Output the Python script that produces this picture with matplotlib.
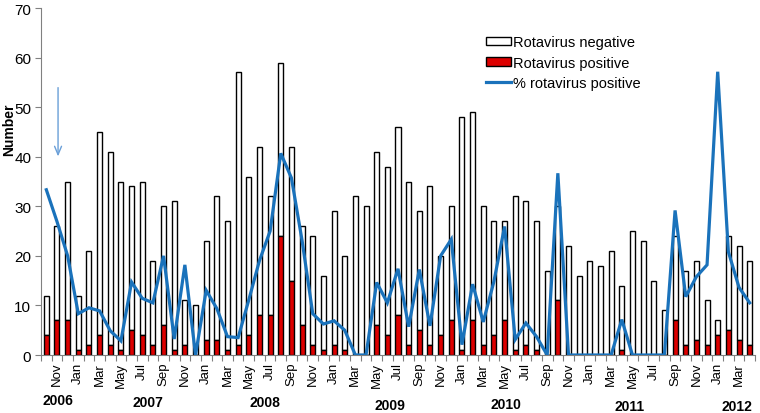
import matplotlib
matplotlib.use("Agg")
import matplotlib.pyplot as plt
import numpy as np
import pandas as pd

plt.rcParams['font.family'] = ['Liberation Sans', 'DejaVu Sans']

# monthly counts, Oct 2006 .. Apr 2012
positive = [4, 7, 7, 1, 2, 4, 2, 1, 5, 4,
            2, 6, 1, 2, 0, 3, 3, 1, 2, 4,
            8, 8, 24, 15, 6, 2, 1, 2, 1, 0,
            0, 6, 4, 8, 2, 5, 2, 4, 7, 1,
            7, 2, 4, 7, 1, 2, 1, 0, 11, 0,
            0, 0, 0, 0, 1, 0, 0, 0, 0, 7,
            2, 3, 2, 4, 5, 3, 2]
negative = [8, 19, 28, 11, 19, 41, 39, 34, 29, 31,
            17, 24, 30, 9, 10, 20, 29, 26, 55, 32,
            34, 24, 35, 27, 20, 22, 15, 27, 19, 32,
            30, 35, 34, 38, 33, 24, 32, 16, 23, 47,
            42, 28, 23, 20, 31, 29, 26, 17, 19, 22,
            16, 19, 18, 21, 13, 25, 23, 15, 9, 17,
            15, 16, 9, 3, 19, 19, 17]
years = ['2006', '2007', '2008', '2009', '2010', '2011', '2012']
year_pos = [1.1, 9.5, 20.5, 32.2, 43.1, 54.7, 64.8]
year_y = [-0.13, -0.135, -0.135, -0.145, -0.14, -0.148, -0.148]

months = pd.date_range('2006-10-01', periods=len(positive), freq='MS')
pos = np.array(positive)
neg = np.array(negative)
total = pos + neg
pct = pos / total * 100
x = np.arange(len(pos))

fig = plt.figure(figsize=(7.6, 4.14), dpi=100)
ax = fig.add_axes([41/760, 1 - 356/414, 714/760, 347/414])

b_neg = ax.bar(x, neg, bottom=pos, width=0.47, color='white', edgecolor='black',
               linewidth=1.0, label='Rotavirus negative', zorder=2)
b_pos = ax.bar(x, pos, width=0.47, color='#dd0000', edgecolor='black',
               linewidth=1.0, label='Rotavirus positive', zorder=2)
l_pct, = ax.plot(x, pct, color='#1a72bb', linewidth=2.3, label='% rotavirus positive',
                 zorder=3, solid_joinstyle='miter')

# arrow marking the start
ax.annotate('', xy=(1.1, 39.5), xytext=(1.1, 54.5),
            arrowprops=dict(arrowstyle='->,head_length=0.6,head_width=0.25',
                            color='#6a9fd8', lw=1.0))

ax.set_xlim(-0.5, len(pos) - 0.5)
ax.set_ylim(0, 70)
ax.set_yticks(range(0, 71, 10))
ax.tick_params(axis='y', labelsize=11, length=4, color='#808080', pad=3)

ax.set_xticks(np.arange(-0.5, len(pos), 1), minor=False)
ax.set_xticklabels([])
ax.tick_params(axis='x', which='major', length=4, color='#808080')
ax.set_xticks(x[1::2], minor=True)
ax.set_xticklabels([m.strftime('%b') for m in months[1::2]], minor=True,
                   rotation=90, fontsize=9.5)
ax.tick_params(axis='x', which='minor', length=0, pad=5)

for s in ['top', 'right']:
    ax.spines[s].set_visible(False)
for s in ['left', 'bottom']:
    ax.spines[s].set_color('#808080')

fig.text(9/760, 1 - 130/414, 'Number', rotation=90, ha='center', va='center',
         fontsize=10, fontweight='bold')

for yr, xp, yp in zip(years, year_pos, year_y):
    ax.text(xp, yp, yr, transform=ax.get_xaxis_transform(), ha='center',
            va='center', fontsize=10, fontweight='bold')

ax.legend([b_neg, b_pos, l_pct],
          ['Rotavirus negative', 'Rotavirus positive', '% rotavirus positive'],
          loc='upper left', bbox_to_anchor=(0.605, 0.96), frameon=False,
          fontsize=10.5, handlelength=1.7, handletextpad=0.15, labelspacing=0.45,
          handleheight=0.5)

fig.savefig('out.png', dpi=100)
